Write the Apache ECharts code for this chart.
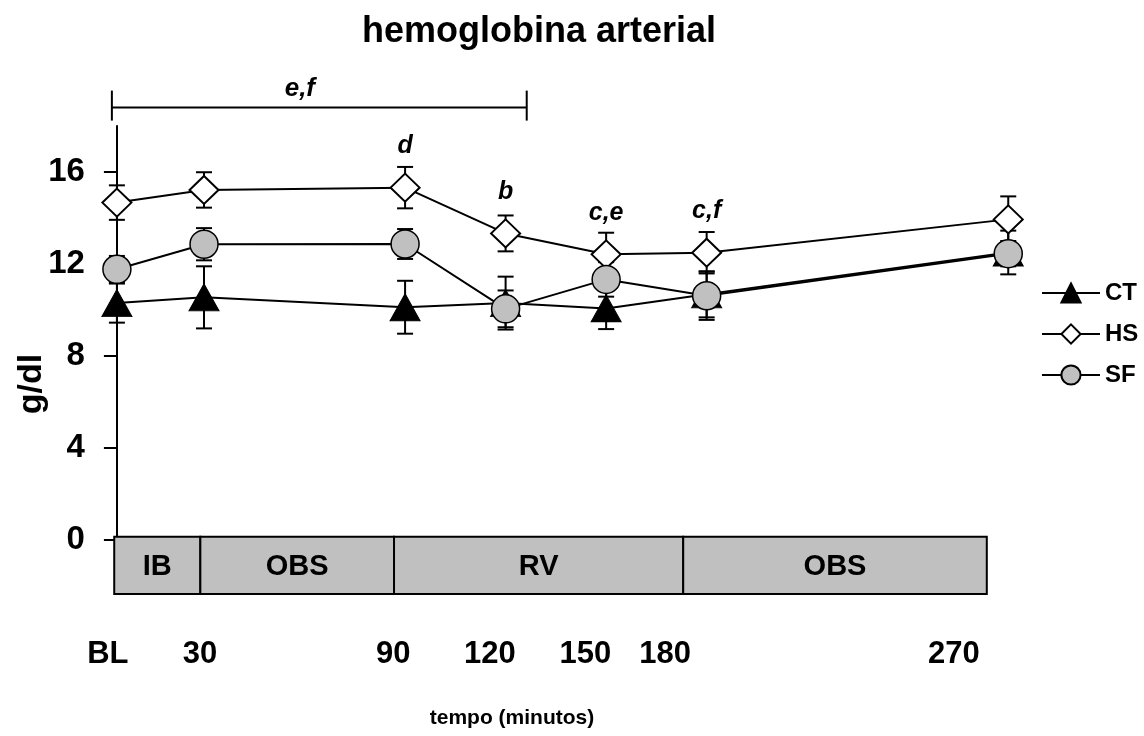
<!DOCTYPE html>
<html><head><meta charset="utf-8">
<script src="https://cdn.jsdelivr.net/npm/echarts@6/dist/echarts.min.js"></script>
<style>html,body{margin:0;padding:0;background:#fff}#c{width:1144px;height:736px}</style>
</head><body><div id="c"></div>
<script>
// ---- data ----
const timeLabels = ['BL', '30', '90', '120', '150', '180', '270'];
const timePos = [4, 30, 90, 120, 150, 180, 270];            // plotted time (min)
const labelPos = [1.3, 28.8, 86.5, 115.3, 143.8, 167.6, 253.8]; // where the time labels sit
const ctMean = [10.3, 10.55, 10.12, 10.3, 10.07, 10.68, 12.5];
const ctSE   = [0.85, 1.35, 1.15, 1.15, 0.9, 1.0, 0.95];
const hsMean = [14.67, 15.22, 15.32, 13.33, 12.42, 12.49, 13.94];
const hsSE   = [0.75, 0.77, 0.9, 0.78, 0.94, 0.9, 1.0];
const sfMean = [11.77, 12.86, 12.87, 10.05, 11.33, 10.62, 12.45];
const sfSE   = [0.58, 0.7, 0.65, 0.8, 0.75, 1.05, 0.55];
const hsNotes = ['', '', 'd', 'b', 'c,e', 'c,f', ''];
const phaseNames = ['IB', 'OBS', 'RV', 'OBS'];
const phaseEdges = [3.2, 28.9, 86.7, 173, 263.6];
const yTicks = [0, 4, 8, 12, 16];
const bracket = { text: 'e,f', start: 2.5, end: 126.3, level: 18.8, textAt: 58.6 };

const FONT = '"Liberation Sans", Arial, sans-serif';

function lineSeries(name, mean, symbol, size, fill, bw, notes) {
  return {
    type: 'line', name: name, xAxisIndex: 0, yAxisIndex: 0, z: 3,
    data: timePos.map((t, i) => ({
      value: [t, mean[i]],
      label: notes ? { show: !!notes[i], formatter: notes[i] } : undefined
    })),
    symbol: symbol, symbolSize: size, showAllSymbol: true,
    lineStyle: { color: '#000', width: 2 },
    itemStyle: { color: fill, borderColor: '#000', borderWidth: bw },
    label: { position: 'top', distance: 14, color: '#000', fontSize: 25, fontWeight: 'bold',
             fontStyle: 'italic', fontFamily: FONT },
    emphasis: { disabled: true }, silent: true, animation: false
  };
}

function errSeries(mean, se) {
  return {
    type: 'custom', xAxisIndex: 0, yAxisIndex: 0, z: 2, silent: true, animation: false,
    data: timePos.map((t, i) => [t, mean[i], se[i]]),
    encode: { x: 0, y: 1 },
    renderItem: function (params, api) {
      const x = api.value(0), m = api.value(1), s = api.value(2);
      const top = api.coord([x, m + s]), bot = api.coord([x, m - s]);
      const hw = 8, st = { stroke: '#000', lineWidth: 2 };
      return { type: 'group', children: [
        { type: 'line', shape: { x1: top[0], y1: top[1], x2: bot[0], y2: bot[1] }, style: st },
        { type: 'line', shape: { x1: top[0] - hw, y1: top[1], x2: top[0] + hw, y2: top[1] }, style: st },
        { type: 'line', shape: { x1: bot[0] - hw, y1: bot[1], x2: bot[0] + hw, y2: bot[1] }, style: st }
      ]};
    }
  };
}

const phaseSeries = {
  type: 'custom', xAxisIndex: 1, yAxisIndex: 1, silent: true, animation: false, clip: false,
  data: phaseNames.map((n, i) => [phaseEdges[i], phaseEdges[i + 1], i]),
  encode: { x: [0, 1] },
  renderItem: function (params, api) {
    const a = api.coord([api.value(0), 1]), b = api.coord([api.value(1), 0]);
    return { type: 'group', children: [
      { type: 'rect', shape: { x: a[0], y: a[1], width: b[0] - a[0], height: b[1] - a[1] },
        style: { fill: '#c0c0c0', stroke: '#000', lineWidth: 2 } },
      { type: 'text', style: { text: phaseNames[api.value(2)], x: (a[0] + b[0]) / 2, y: (a[1] + b[1]) / 2 + 2,
        align: 'center', verticalAlign: 'middle', font: 'bold 29px ' + FONT, fill: '#000' } }
    ]};
  }
};

const bracketSeries = {
  type: 'custom', xAxisIndex: 0, yAxisIndex: 0, silent: true, animation: false, clip: false,
  data: [[bracket.start, bracket.end, bracket.level, bracket.textAt]],
  encode: { x: [0, 1], y: 2 },
  renderItem: function (params, api) {
    const a = api.coord([api.value(0), api.value(2)]), b = api.coord([api.value(1), api.value(2)]);
    const c = api.coord([api.value(3), api.value(2)]);
    const st = { stroke: '#000', lineWidth: 2 };
    return { type: 'group', children: [
      { type: 'line', shape: { x1: a[0], y1: a[1], x2: b[0], y2: b[1] }, style: st },
      { type: 'line', shape: { x1: a[0], y1: a[1] - 17, x2: a[0], y2: a[1] + 13 }, style: st },
      { type: 'line', shape: { x1: b[0], y1: b[1] - 17, x2: b[0], y2: b[1] + 13 }, style: st },
      { type: 'text', style: { text: bracket.text, x: c[0], y: c[1] - 19, align: 'center', verticalAlign: 'middle',
        font: 'italic bold 26px ' + FONT, fill: '#000' } }
    ]};
  }
};

const chart = echarts.init(document.getElementById('c'), null, { renderer: 'canvas' });
chart.setOption({
  backgroundColor: '#fff',
  animation: false,
  title: { text: 'hemoglobina arterial', left: 362, top: 14, padding: 0,
           textStyle: { fontSize: 36, fontWeight: 'bold', color: '#000', fontFamily: FONT } },
  legend: { orient: 'vertical', left: 1041, top: 281, padding: 0, itemWidth: 58, itemHeight: 24, itemGap: 17,
            selectedMode: false, data: ['CT', 'HS', 'SF'],
            textStyle: { fontSize: 24, fontWeight: 'bold', color: '#000', fontFamily: FONT } },
  grid: [
    { left: 116.9, right: 119, top: 126, bottom: 196 },
    { left: 103.5, right: 119, top: 536.7, height: 57.3 }
  ],
  xAxis: [
    { gridIndex: 0, type: 'value', min: 4, max: 275, show: false },
    { gridIndex: 1, type: 'value', min: 0, max: 275,
      axisLine: { show: false }, axisTick: { show: false }, splitLine: { show: false },
      axisLabel: { customValues: labelPos, margin: 45, fontSize: 31, fontWeight: 'bold', color: '#000', fontFamily: FONT,
        formatter: function (v) {
          let best = 0;
          labelPos.forEach((p, i) => { if (Math.abs(p - v) < Math.abs(labelPos[best] - v)) best = i; });
          return timeLabels[best];
        } } }
  ],
  yAxis: [
    { gridIndex: 0, type: 'value', min: 0, max: 18,
      axisLine: { show: true, lineStyle: { color: '#000', width: 2 } },
      axisTick: { show: true, customValues: yTicks, length: 13, lineStyle: { color: '#000', width: 2 } },
      axisLabel: { customValues: yTicks, margin: 32, fontSize: 33, fontWeight: 'bold', color: '#000', fontFamily: FONT },
      splitLine: { show: false } },
    { gridIndex: 1, type: 'value', min: 0, max: 1, show: false }
  ],
  graphic: [
    { type: 'text', x: 32, y: 384, rotation: Math.PI / 2,
      style: { text: 'g/dl', align: 'center', verticalAlign: 'middle', font: 'bold 34px ' + FONT, fill: '#000' } },
    { type: 'text', x: 512, y: 718,
      style: { text: 'tempo (minutos)', align: 'center', verticalAlign: 'middle', font: 'bold 21px ' + FONT, fill: '#000' } }
  ],
  series: [
    phaseSeries,
    bracketSeries,
    errSeries(ctMean, ctSE),
    errSeries(hsMean, hsSE),
    errSeries(sfMean, sfSE),
    lineSeries('CT', ctMean, 'triangle', [30, 27], '#000', 1, null),
    lineSeries('HS', hsMean, 'diamond', [29, 28], '#fff', 2, hsNotes),
    lineSeries('SF', sfMean, 'circle', 28, '#c0c0c0', 1.5, null)
  ]
});
</script>
</body></html>
